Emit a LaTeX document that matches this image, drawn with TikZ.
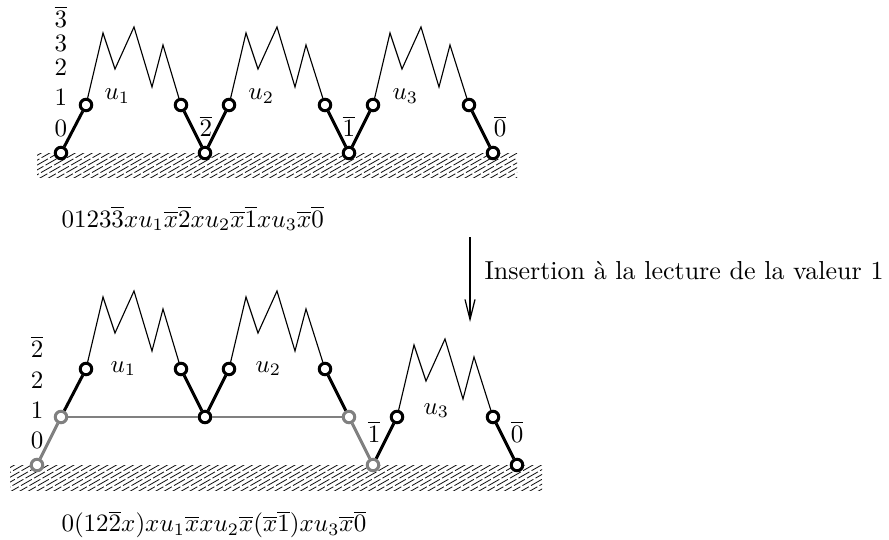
\documentclass[tikz,border=0pt]{standalone}
\usetikzlibrary{arrows.meta}
\definecolor{pgray}{RGB}{128,128,128}
\begin{document}
\begin{tikzpicture}[x=0.4pt,y=-0.4pt,
  pt/.style={circle, draw=black, fill=white, line width=1.2pt, minimum size=4.6pt, inner sep=0pt},
  gpt/.style={pt, draw=pgray},
  thickl/.style={line width=1.2pt, black},
  gthickl/.style={line width=1.2pt, pgray},
  zig/.style={line width=0.45pt, black, line join=miter},
  hatchline/.style={line width=0.3pt, dash pattern=on 5pt off 1pt},
  lbl/.style={inner sep=0pt, anchor=base},
  lblw/.style={inner sep=0pt, anchor=base west}]
\useasboundingbox (0,0) rectangle (889,540);
\newcommand\myzig[2]{\draw[zig] (#1) -- ++(17,-72) -- ++(12,36) -- ++(19,-42) -- ++(18,60) -- ++(11,-42) -- (#2);}
% hatching
\begin{scope}
  \clip (37,153) rectangle (517,177);
  \foreach \i in {0,...,70} \draw[hatchline] (\i*8.5-40,180) -- ++(56,-32);
\end{scope}
\begin{scope}
  \clip (10,465) rectangle (542,490);
  \foreach \i in {0,...,74} \draw[hatchline] (\i*8.5-60,493) -- ++(56,-32);
\end{scope}
% ---------- top path ----------
\node[pt] (t0) at (61,153) {};
\node[pt] (t1) at (86,105) {};
\node[pt] (t2) at (181,105) {};
\node[pt] (t3) at (205,153) {};
\node[pt] (t4) at (229,105) {};
\node[pt] (t5) at (325,105) {};
\node[pt] (t6) at (349,153) {};
\node[pt] (t7) at (373,105) {};
\node[pt] (t8) at (469,105) {};
\node[pt] (t9) at (493,153) {};
\draw[thickl] (t0) -- (t1);
\myzig{t1}{t2}
\draw[thickl] (t2) -- (t3);
\draw[thickl] (t3) -- (t4);
\myzig{t4}{t5}
\draw[thickl] (t5) -- (t6);
\draw[thickl] (t6) -- (t7);
\myzig{t7}{t8}
\draw[thickl] (t8) -- (t9);
% top labels
\node[lbl] (lt3b) at (61,27) {$\overline{3}$};
\node[lbl] (lt3) at (61,51) {$3$};
\node[lbl] (lt2) at (61,75) {$2$};
\node[lbl] (lt1) at (61,106) {$1$};
\node[lbl] (lt0) at (61,136) {$0$};
\node[lblw] (tu1) at (104,100) {$u_1$};
\node[lblw] (tu2) at (248,100) {$u_2$};
\node[lblw] (tu3) at (392,100) {$u_3$};
\node[lbl] (t2b) at (206,137) {$\overline{2}$};
\node[lbl] (t1b) at (349,137) {$\overline{1}$};
\node[lbl] (t0b) at (500,137) {$\overline{0}$};
\node[lblw] (f1) at (61,227) {$0123\overline{3}xu_1\overline{x}\overline{2}xu_2\overline{x}\overline{1}xu_3\overline{x}\overline{0}$};
% ---------- arrow ----------
\coordinate (ar1) at (470,237);
\coordinate (ar2) at (470,322);
\draw[line width=0.5pt, -{Straight Barb[length=8pt,width=4pt]}] (ar1) -- (ar2);
\node[lblw, scale=1.04] (ins) at (484,279) {Insertion à la lecture de la valeur 1};
% ---------- bottom path ----------
\node[gpt] (b0) at (37,465) {};
\node[gpt] (b1) at (61,417) {};
\node[pt] (b2) at (86,369) {};
\node[pt] (b3) at (181,369) {};
\node[pt] (b4) at (205,417) {};
\node[pt] (b5) at (229,369) {};
\node[pt] (b6) at (325,369) {};
\node[gpt] (b7) at (349,417) {};
\node[gpt] (b8) at (373,465) {};
\node[pt] (b9) at (397,417) {};
\node[pt] (b10) at (493,417) {};
\node[pt] (b11) at (517,465) {};
\draw[line width=0.45pt, pgray] (b1) -- (b4);
\draw[line width=0.45pt, pgray] (b4) -- (b7);
\draw[gthickl] (b0) -- (b1);
\draw[thickl] (b1) -- (b2);
\myzig{b2}{b3}
\draw[thickl] (b3) -- (b4);
\draw[thickl] (b4) -- (b5);
\myzig{b5}{b6}
\draw[thickl] (b6) -- (b7);
\draw[gthickl] (b7) -- (b8);
\draw[thickl] (b8) -- (b9);
\myzig{b9}{b10}
\draw[thickl] (b10) -- (b11);
% bottom labels
\node[lbl] (lb2b) at (37,357) {$\overline{2}$};
\node[lbl] (lb2) at (37,388) {$2$};
\node[lbl] (lb1) at (37,418) {$1$};
\node[lbl] (lb0) at (37,448) {$0$};
\node[lblw] (bu1) at (110,372) {$u_1$};
\node[lblw] (bu2) at (255,372) {$u_2$};
\node[lblw] (bu3) at (423,414) {$u_3$};
\node[lbl] (b1b) at (374,442) {$\overline{1}$};
\node[lbl] (b0b) at (517,442) {$\overline{0}$};
\node[lblw] (f2) at (61,532) {$0(12\overline{2}x)xu_1\overline{x}xu_2\overline{x}(\overline{x}\overline{1})xu_3\overline{x}\overline{0}$};
\end{tikzpicture}
\end{document}
